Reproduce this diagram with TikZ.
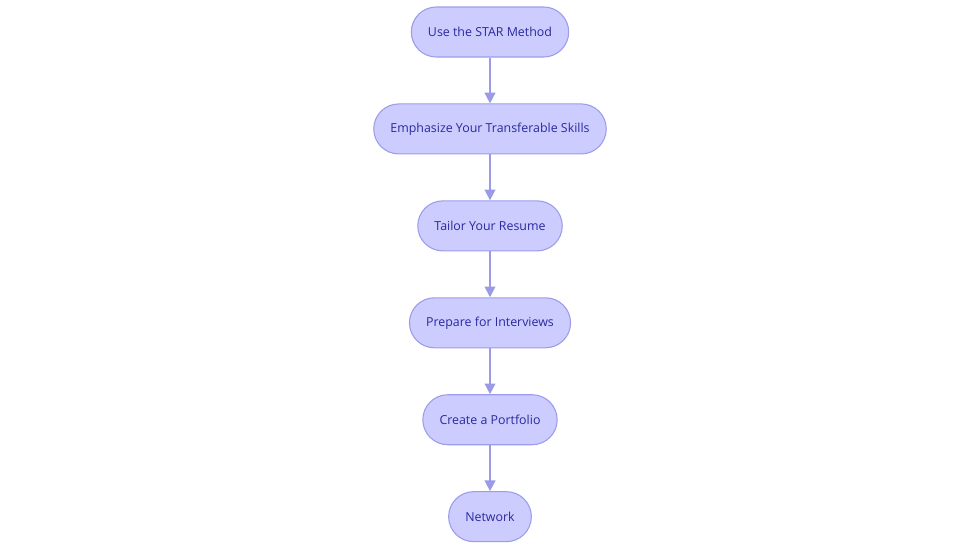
\documentclass[tikz,border=0pt]{standalone}
\usepackage{fontspec}
\setmainfont{Open Sans}
\usetikzlibrary{positioning,arrows.meta}
\definecolor{stepfill}{HTML}{CCCCFF}
\definecolor{stepline}{HTML}{9C9CEB}
\definecolor{steptext}{HTML}{2A2A9E}
\definecolor{flowline}{HTML}{9A9AE6}
\tikzset{
  stepbox/.style={draw=stepline,fill=stepfill,text=steptext,line width=0.8pt,
    rounded corners=18.75pt,minimum height=37.5pt,inner xsep=12.5pt,
    font=\fontsize{9.3}{11}\selectfont},
  flow/.style={draw=flowline,line width=1.2pt,-{Triangle[length=8pt,width=8pt]}}
}
\begin{document}
\begin{tikzpicture}[node distance=34.4pt]
  \useasboundingbox (0,0) rectangle (735pt,-414.75pt);
  \node[stepbox] (star) at (367.5pt,-24pt) {Use the STAR Method};
  \node[stepbox,below=of star] (skills) {Emphasize Your Transferable Skills};
  \node[stepbox,below=of skills] (resume) {Tailor Your Resume};
  \node[stepbox,below=of resume] (interview) {Prepare for Interviews};
  \node[stepbox,below=of interview] (portfolio) {Create a Portfolio};
  \node[stepbox,below=of portfolio] (network) {Network};
  % arrows between the steps
  \draw[flow] (star) -- (skills);
  \draw[flow] (skills) -- (resume);
  \draw[flow] (resume) -- (interview);
  \draw[flow] (interview) -- (portfolio);
  \draw[flow] (portfolio) -- (network);
\end{tikzpicture}
\end{document}
